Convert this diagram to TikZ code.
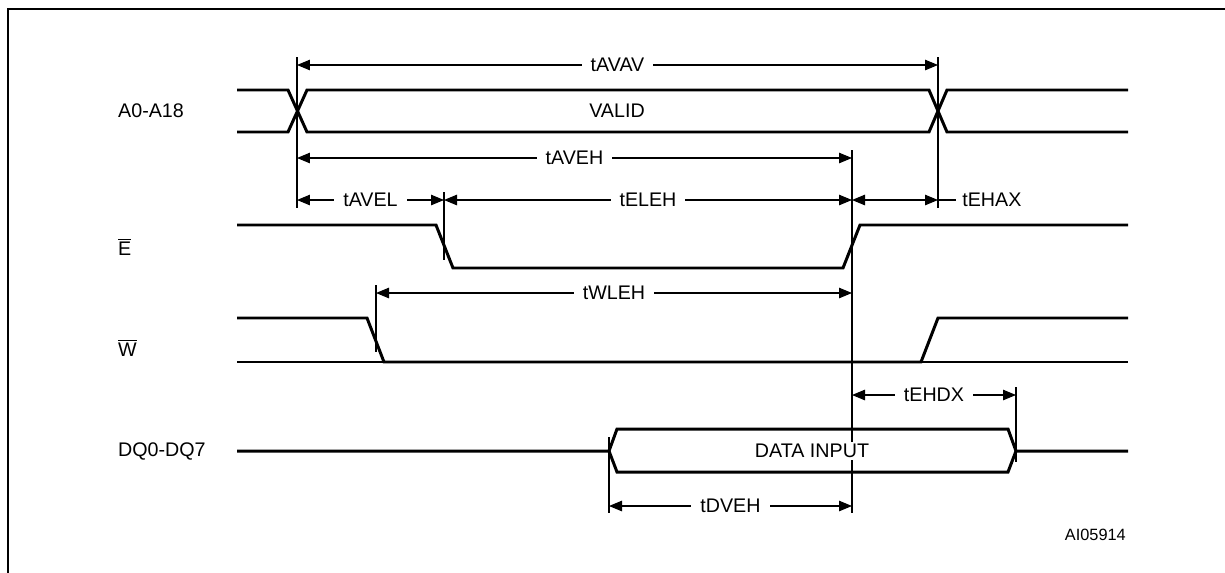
\documentclass[tikz,border=0pt]{standalone}
\usepackage{fontspec}
\setmainfont{Liberation Sans}
\usetikzlibrary{arrows.meta}

\begin{document}
\begin{tikzpicture}[x=0.02cm, y=-0.02cm,
	font=\fontsize{11.2}{13}\selectfont,
	sig/.style={line width=1.7pt, line join=miter},
	tick/.style={line width=0.6pt},
	dim/.style={line width=0.6pt, {Triangle[length=2.6mm,width=2.1mm]}-{Triangle[length=2.6mm,width=2.1mm]}},
	lbl/.style={fill=white, inner xsep=1.8mm, inner ysep=0.4mm}]
	\useasboundingbox (0,0) rectangle (1225,572);
	\draw [sig] (8,700) -- (8,9) -- (1300,9);

	% edge positions
	\foreach \n/\x in {av/297, wl/376, el/444, dv/609, eh/852, ax/938, dx/1016}
	    {
		\coordinate (\n) at (\x,0);
	    }

	% reference lines
	\foreach \n/\a/\b in {av/57/208, ax/57/208, eh/150/513, el/192/260, wl/285/352, dx/387/462, dv/437/513}
	    {
		\draw [tick] (\n |- 0,\a) -- (\n |- 0,\b);
	    }

	% signal names
	\node [anchor=west] (nA) at (112,111) {A0-A18};
	\node [anchor=west] (nE) at (112,247) {$\overline{\mbox{E}}$};
	\node [anchor=west] (nW) at (112,348) {$\overline{\mbox{W}}$};
	\node [anchor=west] (nDQ) at (112,451) {DQ0-DQ7};

	% address bus
	\draw [sig] (237,90) -- (288,90) -- (307,132) -- (929,132) -- (947,90) -- (1128,90);
	\draw [sig] (237,132) -- (288,132) -- (307,90) -- (929,90) -- (947,132) -- (1128,132);
	\node (valid) at (617,111) {VALID};

	% E and W
	\draw [sig] (237,225) -- (436,225) -- (453,268) -- (843,268) -- (860,225) -- (1128,225);
	\draw [sig] (237,318) -- (367,318) -- (384,362) -- (921,362) -- (938,318) -- (1128,318);
	\draw [sig] (237,362) -- (384,362);
	\draw [sig] (921,362) -- (1128,362);

	% data bus
	\draw [sig] (237,451) -- (609,451) -- (617,429) -- (1008,429) -- (1016,451) -- (1128,451);
	\draw [sig] (609,451) -- (617,472) -- (1008,472) -- (1016,451);
	\node [fill=white, inner sep=0.5mm] (din) at (812,451) {DATA INPUT};

	% timing arrows
	\draw [dim] (av |- 0,65) -- node[lbl] {tAVAV} (ax |- 0,65);
	\draw [dim] (av |- 0,158) -- node[lbl] {tAVEH} (eh |- 0,158);
	\draw [dim] (av |- 0,200) -- node[lbl] {tAVEL} (el |- 0,200);
	\draw [dim] (el |- 0,200) -- node[lbl] {tELEH} (eh |- 0,200);
	\draw [dim] (eh |- 0,200) -- (ax |- 0,200);
	\draw [tick] (ax |- 0,200) -- ++(18,0) node[right] {tEHAX};
	\draw [dim] (wl |- 0,293) -- node[lbl] {tWLEH} (eh |- 0,293);
	\draw [dim] (eh |- 0,395) -- node[lbl] {tEHDX} (dx |- 0,395);
	\draw [dim] (dv |- 0,506) -- node[lbl] {tDVEH} (eh |- 0,506);

	\node [anchor=east, font=\fontsize{9.3}{11}\selectfont] (fig) at (1132,535) {AI05914};
\end{tikzpicture}
\end{document}
